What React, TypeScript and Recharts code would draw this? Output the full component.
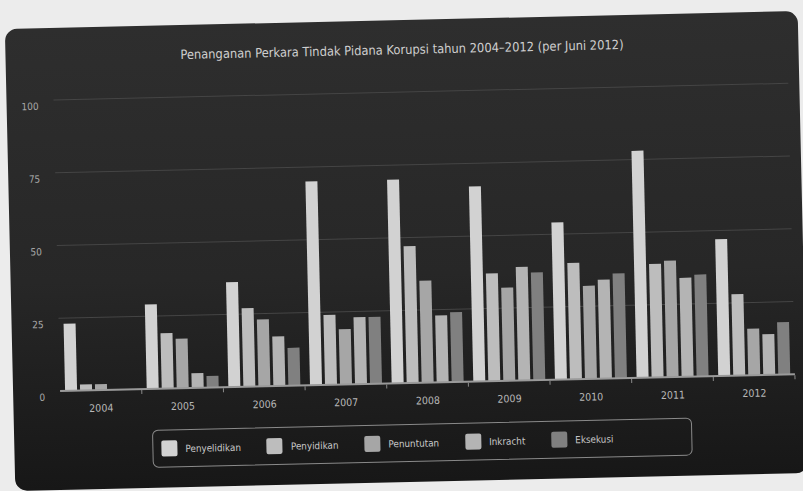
import { BarChart, Bar, XAxis, YAxis, CartesianGrid } from "recharts";

const years = ["2004", "2005", "2006", "2007", "2008", "2009", "2010", "2011", "2012"];
const penyelidikan = [23, 29, 36, 70, 70, 67, 54, 78, 47];
const penyidikan = [2, 19, 27, 24, 47, 37, 40, 39, 28];
const penuntutan = [2, 17, 23, 19, 35, 32, 32, 40, 16];
const inkracht = [0, 5, 17, 23, 23, 39, 34, 34, 14];
const eksekusi = [0, 4, 13, 23, 24, 37, 36, 35, 18];
const yTicks = [0, 25, 50, 75, 100];

const series = [
  { key: "penyelidikan", name: "Penyelidikan", values: penyelidikan, color: "#d2d2d2" },
  { key: "penyidikan", name: "Penyidikan", values: penyidikan, color: "#bdbdbd" },
  { key: "penuntutan", name: "Penuntutan", values: penuntutan, color: "#a6a6a6" },
  { key: "inkracht", name: "Inkracht", values: inkracht, color: "#b4b4b4" },
  { key: "eksekusi", name: "Eksekusi", values: eksekusi, color: "#808080" },
];

const data = years.map((year, i) => {
  const row: Record<string, string | number> = { year };
  series.forEach((s) => (row[s.key] = s.values[i]));
  return row;
});

const FONT = "'DejaVu Sans Condensed', 'DejaVu Sans', sans-serif";
const W = 793;
const H = 462;
const HALF_BAND = (782 - 47) / years.length / 2;

// year label centred under the group, small tick on the group boundary
function YearTick({ x, y, payload }: any) {
  return (
    <g>
      <text x={x} y={y + 18} dy="0.35em" textAnchor="middle" fill="#b8b8b8" fontSize={10.5} fontFamily={FONT}>
        {payload.value}
      </text>
      <line x1={x + HALF_BAND} x2={x + HALF_BAND} y1={y + 1} y2={y + 5} stroke="#8a8a8a" />
    </g>
  );
}

export default function App() {
  return (
    <div style={{ position: "absolute", left: 0, top: 0, width: 803, height: 491, background: "#ececec", overflow: "hidden" }}>
      <div
        style={{
          position: "absolute",
          left: 10,
          top: 20,
          width: W,
          height: H,
          borderRadius: 12,
          background: "linear-gradient(#2e2e2e 0%, #272727 55%, #171717 100%)",
          transform: "rotate(-1.3deg)",
          fontFamily: FONT,
        }}
      >
        <div style={{ position: "absolute", top: 22, left: 0, width: W, textAlign: "center", color: "#cfcfcf", fontSize: 12.8 }}>
          Penanganan Perkara Tindak Pidana Korupsi tahun 2004–2012 (per Juni 2012)
        </div>

        <BarChart width={W} height={H} data={data} margin={{ top: 72, right: 11, left: 0, bottom: 69 }} barSize={12} barGap={3}>
          <CartesianGrid vertical={false} stroke="#454545" />
          <YAxis
            domain={[0, 100]}
            ticks={yTicks}
            width={47}
            axisLine={false}
            tickLine={false}
            tickSize={0}
            tickMargin={15}
            tick={{ fill: "#a8a8a8", fontSize: 10, fontFamily: FONT, dy: 6 }}
          />
          <XAxis
            dataKey="year"
            height={30}
            tickSize={0}
            tickMargin={0}
            tickLine={false}
            axisLine={{ stroke: "#9a9a9a", strokeWidth: 2 }}
            tick={<YearTick />}
          />
          {series.map((s) => (
            <Bar key={s.key} dataKey={s.key} name={s.name} fill={s.color} isAnimationActive={false} />
          ))}
        </BarChart>

        <div
          style={{
            position: "absolute",
            left: 138,
            top: 404,
            width: 540,
            height: 38,
            boxSizing: "border-box",
            border: "1.5px solid #8a8a8a",
            borderRadius: 6,
            display: "flex",
            alignItems: "center",
            paddingLeft: 8,
            gap: 26,
          }}
        >
          {series.map((s) => (
            <div key={s.key} style={{ display: "flex", alignItems: "center" }}>
              <span style={{ width: 16, height: 16, borderRadius: 2, background: s.color, marginRight: 8, display: "inline-block" }} />
              <span style={{ color: "#c8c8c8", fontSize: 9.8 }}>{s.name}</span>
            </div>
          ))}
        </div>
      </div>
    </div>
  );
}
